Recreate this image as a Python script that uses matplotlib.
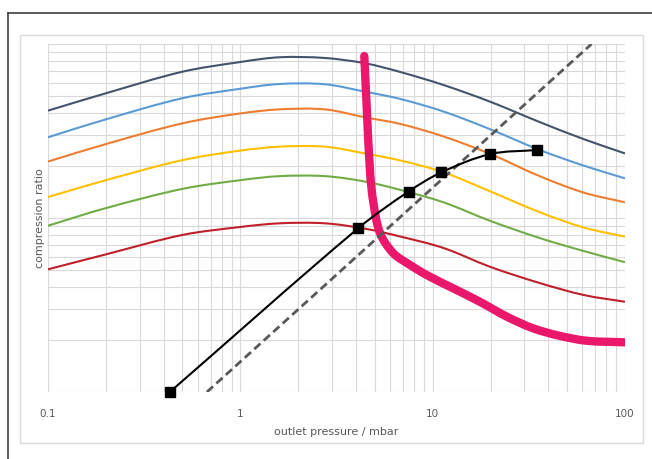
import matplotlib
matplotlib.use("Agg")
from matplotlib import pyplot as plt
from matplotlib.patches import Rectangle, PathPatch
from matplotlib.lines import Line2D
from matplotlib.path import Path
import numpy as np

# pump curves: compression ratio vs outlet pressure (mbar)
x_curve = [0.1, 0.2, 0.5, 1.0, 1.6, 2.75, 4.45, 6.8, 11.4, 20.0, 36.0, 61.0, 100.0]
y_navy = [41.4, 52.1, 69.3, 78.8, 83.9, 83.1, 77.5, 69.0, 58.1, 46.5, 35.6, 28.4, 23.5]
y_blue = [29.1, 36.9, 48.8, 55.3, 58.9, 58.7, 53.2, 48.3, 40.9, 32.3, 24.6, 20.0, 16.9]
y_orange = [21.1, 26.6, 35.0, 39.9, 42.1, 42.1, 37.9, 34.7, 29.4, 23.3, 17.4, 14.0, 12.3]
y_yellow = [13.2, 16.5, 21.5, 24.4, 25.7, 25.7, 23.5, 21.4, 18.3, 14.2, 10.8, 8.82, 7.81]
y_green = [9.03, 11.4, 14.7, 16.5, 17.4, 17.4, 16.2, 14.5, 12.3, 9.61, 7.67, 6.46, 5.57]
y_red = [5.07, 6.18, 7.99, 8.88, 9.32, 9.32, 8.68, 7.82, 6.72, 5.23, 4.23, 3.61, 3.30]

# thick pink limit curve
x_pink = [4.41, 4.54, 4.73, 4.92, 5.33, 6.25, 7.63, 9.32, 12.8, 17.6, 24.3, 33.4, 46.0, 63.3, 100.0]
y_pink = [85.3, 43.6, 18.1, 12.2, 8.17, 6.27, 5.37, 4.70, 3.94, 3.30, 2.71, 2.32, 2.10, 1.97, 1.93]

# operating points (black squares)
x_ops = [0.43, 4.1, 7.5, 11.1, 19.9, 35.0]
y_ops = [1.0, 8.73, 14.2, 18.3, 23.3, 24.6]

# dashed reference line
x_dash = [0.67, 67.0]
y_dash = [1.0, 100.0]

curves = [y_navy, y_blue, y_orange, y_yellow, y_green, y_red]
colors = ['#44546A', '#5B9BD5', '#ED7D31', '#FFC000', '#70AD47', '#C0202A']


def smooth_path(xs, ys):
    # smoothed line: bezier segments in log-log space, handles scaled by chord length
    k = 192.3 / 174.0   # x decade is a bit wider than y decade on screen
    p = np.column_stack([np.log10(xs) * k, np.log10(ys)])
    n = len(p)
    tang = []
    for i in range(n):
        d = p[min(i + 1, n - 1)] - p[max(i - 1, 0)]
        tang.append(d / np.hypot(*d))
    verts = [p[0]]
    codes = [Path.MOVETO]
    for i in range(n - 1):
        L = np.hypot(*(p[i + 1] - p[i])) / 3
        verts += [p[i] + tang[i] * L, p[i + 1] - tang[i + 1] * L, p[i + 1]]
        codes += [Path.CURVE4] * 3
    v = np.array(verts)
    v[:, 0] /= k
    return Path(10 ** v, codes)


fig = plt.figure(figsize=(6.52, 4.59), dpi=100)

# outer frame and chart area border
fig.add_artist(Line2D([8/652, 8/652], [0, 1 - 13/459], color='#404040', lw=1.2))
fig.add_artist(Line2D([8/652, 1], [1 - 13/459, 1 - 13/459], color='#404040', lw=1.2))
fig.add_artist(Rectangle((20/652, 1 - 443/459), 623/652, 408/459, fill=False,
                         edgecolor='#d9d9d9', lw=1.0, transform=fig.transFigure))

ax = fig.add_axes([48/652, 1 - 392/459, 577/652, 348/459])
ax.set_xscale('log')
ax.set_yscale('log')
ax.set_xlim(0.1, 100)
ax.set_ylim(1, 100)

for yc, c in zip(curves, colors):
    ax.add_patch(PathPatch(smooth_path(x_curve, yc), fill=False, edgecolor=c, lw=1.5, zorder=3))

ax.add_patch(PathPatch(smooth_path(x_pink, y_pink), fill=False, edgecolor='#E9186B', lw=6,
                       capstyle='round', zorder=4))
ax.plot(x_dash, y_dash, color='#595959', lw=2, dashes=(3, 1.6), zorder=5)
ax.add_patch(PathPatch(smooth_path(x_ops, y_ops), fill=False, edgecolor='black', lw=1.5, zorder=6))
ax.plot(x_ops, y_ops, ls='none', color='black', marker='s', ms=6.5, zorder=7, clip_on=False)

ax.grid(True, which='both', color='#d9d9d9', lw=0.8)
ax.set_axisbelow(True)
for s in ax.spines.values():
    s.set_visible(False)
ax.tick_params(which='both', length=0, colors='#595959', labelsize=7.5, pad=12)
ax.set_yticklabels([], minor=True)
ax.set_yticklabels([])
ax.set_xticks([0.1, 1, 10, 100])
ax.set_xticklabels(['0.1', '1', '10', '100'])
ax.set_xticklabels([], minor=True)

ax.set_xlabel('outlet pressure / mbar', color='#595959', fontsize=8, labelpad=6)
ax.set_ylabel('compression ratio', color='#595959', fontsize=8)
ax.yaxis.set_label_coords(-0.006, 0.5)

fig.savefig('out.png', dpi=100)
